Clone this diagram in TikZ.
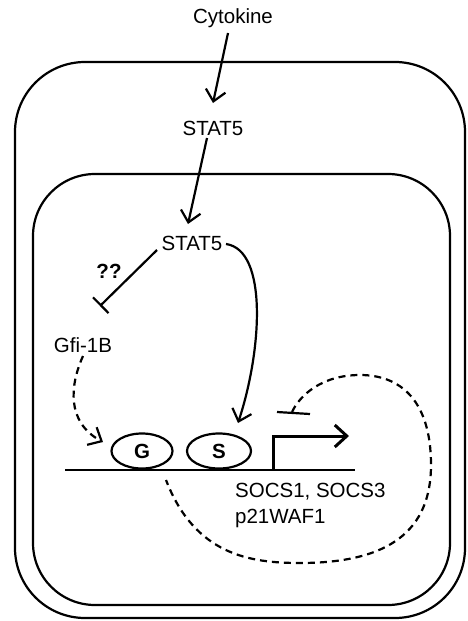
\documentclass[tikz,border=0pt]{standalone}
\usepackage{fontspec}
\setmainfont{Liberation Sans}
\usetikzlibrary{arrows.meta,shapes.geometric}
\tikzset{
  lbl/.style={font=\fontsize{20.5}{24}\selectfont, inner sep=1pt},
  cellbox/.style={draw, line width=2.2pt},
  act/.style={line width=2.2pt, -{Straight Barb[length=11pt,width=20pt,line width=2.2pt]}},
  inh/.style={line width=2.2pt, -{Bar[width=22pt,line width=2.2pt]}},
  dsh/.style={line width=2.2pt, dash pattern=on 7pt off 5pt},
  site/.style={draw, ellipse, line width=2.2pt, inner sep=0pt, font=\fontsize{20.5}{24}\selectfont\bfseries},
}
\begin{document}
\begin{tikzpicture}[x=1pt,y=-1pt]
\useasboundingbox (0,0) rectangle (467,621);
% membranes
\draw[cellbox, rounded corners=70pt] (15,62) rectangle (465,618);
\draw[cellbox, rounded corners=62pt] (33,174) rectangle (450,605);
% labels
\node[lbl] (cyt) at (233,18) {Cytokine};
\node[lbl] (stat1) at (213,128) {STAT5};
\node[lbl] (stat2) at (192,243) {STAT5};
\node[lbl, font=\fontsize{20.5}{24}\selectfont\bfseries] (qq) at (109,271) {??};
\node[lbl] (gfi) at (83,345) {Gfi-1B};
\node[lbl, anchor=west] (socs) at (234,492) {SOCS1, SOCS3};
\node[lbl, anchor=west] (p21) at (234,518) {p21WAF1};
% DNA
\coordinate (dnaL) at (65,470);
\coordinate (dnaR) at (355,470);
\coordinate (tss) at (273,470);
\coordinate (tssEnd) at (349,436);
\draw[line width=2.5pt] (dnaL) -- (dnaR);
\node[site, minimum width=61pt, minimum height=35pt] (G) at (142,451) {G};
\node[site, minimum width=64pt, minimum height=35pt] (S) at (219,451) {S};
\draw[line width=3pt, -{Straight Barb[length=12pt,width=22pt,line width=3pt]}] (tss) |- (tssEnd);
% signalling arrows
\coordinate (c1) at (228,33);
\coordinate (c2) at (213,103);
\draw[act] (c1) -- (c2);
\coordinate (s1) at (207,138);
\coordinate (s2) at (188,224);
\draw[act] (s1) -- (s2);
\coordinate (i1) at (157,250);
\coordinate (i2) at (100,306);
\draw[inh] (i1) -- (i2);
\coordinate (a1) at (226,244);
\coordinate (a2) at (238,423);
\draw[act] (a1) .. controls (268,250) and (262,350) .. (a2);
\coordinate (g1) at (83,356);
\coordinate (g2) at (103,442);
\draw[dsh, -{Straight Barb[length=11pt,width=20pt,line width=2.2pt]}] (g1) .. controls (70,385) and (66,422) .. (g2);
% feedback (drawn from the bar end so the dash meets the bar)
\coordinate (f0) at (166,480);
\coordinate (fb) at (300,563);
\coordinate (fr) at (431,465);
\coordinate (ft) at (360,375);
\coordinate (fe) at (292,412);
\draw[dsh] (fe) .. controls (300,395) and (322,375) .. (ft)
  .. controls (400,375) and (431,400) .. (fr)
  .. controls (431,530) and (390,563) .. (fb)
  .. controls (250,563) and (195,555) .. (f0);
\coordinate (barL) at (277,412);
\coordinate (barR) at (310,414);
\draw[line width=2.2pt] (barL) -- (barR);
\end{tikzpicture}
\end{document}
